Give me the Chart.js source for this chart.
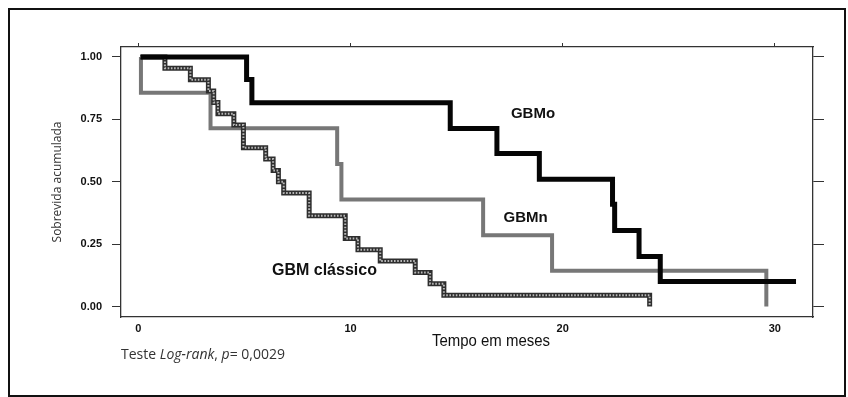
<!DOCTYPE html>
<html lang="pt">
<head>
<meta charset="UTF-8">
<title>Sobrevida acumulada</title>
<script src="https://cdn.jsdelivr.net/npm/chart.js@4.4.1/dist/chart.umd.min.js"></script>
<style>
  html, body { margin: 0; padding: 0; background: #fff; }
  #moldura { position: absolute; left: 8px; top: 8px; width: 838px; height: 389px; box-sizing: border-box; border: 2px solid #111; }
  #grafico { position: absolute; left: 0; top: 0; }
</style>
</head>
<body>
<div id="moldura"></div>
<canvas id="grafico" width="848" height="397"></canvas>
<script>
// --- dados (Kaplan-Meier) ---
const tempoGBMo = [0.1, 5.1, 5.35, 14.7, 16.9, 18.9, 22.35, 22.45, 23.6, 24.6, 31.0];
const sobrevidaGBMo = [1.0, 0.91, 0.817, 0.713, 0.613, 0.51, 0.41, 0.305, 0.2, 0.1, 0.1];

const tempoGBMn = [0.1, 0.12, 3.4, 9.37, 9.57, 16.25, 19.5, 29.6];
const sobrevidaGBMn = [1.0, 0.857, 0.714, 0.571, 0.429, 0.286, 0.143, 0.0];

const tempoClassico = [0.1, 1.25, 2.45, 3.3, 3.55, 3.75, 4.5, 4.95, 6.0, 6.35, 6.6, 6.85, 8.05, 9.75, 10.35, 11.4, 13.05, 13.75, 14.4, 24.1];
const sobrevidaClassico = [1.0, 0.955, 0.909, 0.864, 0.818, 0.773, 0.727, 0.636, 0.591, 0.545, 0.5, 0.455, 0.364, 0.273, 0.227, 0.182, 0.136, 0.091, 0.045, 0.0];

const xTicks = [0, 10, 20, 30];
const xTickLabels = ['0', '10', '20', '30'];
const yTicks = [0, 0.25, 0.5, 0.75, 1];
const yTickLabels = ['0.00', '0.25', '0.50', '0.75', '1.00'];
const nomesSeries = ['GBMo', 'GBMn', 'GBM clássico'];

const pontos = (tempos, valores) => tempos.map((t, i) => ({ x: t, y: valores[i] }));

const fonteBase = '"Liberation Sans", Arial, sans-serif';
const corEixo = '#333';

// ticks fixos para todos os eixos
const fixarTicks = valores => scale => { scale.ticks = valores.map(v => ({ value: v })); };

// rótulos das curvas, título do eixo x e nota do teste
const textosPlugin = {
  id: 'textos',
  afterDraw(chart) {
    const { ctx, scales: { x, y } } = chart;
    ctx.save();
    ctx.fillStyle = '#111';
    ctx.textAlign = 'center';
    ctx.textBaseline = 'middle';

    ctx.font = 'bold 15px ' + fonteBase;
    ctx.fillText(nomesSeries[0], x.getPixelForValue(18.6), y.getPixelForValue(0.774));
    ctx.fillText(nomesSeries[1], x.getPixelForValue(18.25), y.getPixelForValue(0.357));
    ctx.font = 'bold 16px ' + fonteBase;
    ctx.fillText(nomesSeries[2], x.getPixelForValue(8.77), y.getPixelForValue(0.144));

    // título do eixo x, condensado
    ctx.font = '17px ' + fonteBase;
    const titulo = 'Tempo em meses';
    const w = ctx.measureText(titulo).width;
    ctx.save();
    ctx.translate(491, 341);
    ctx.scale(118 / w, 1);
    ctx.fillText(titulo, 0, 0);
    ctx.restore();

    // nota: Teste Log-rank, p= 0,0029
    ctx.fillStyle = '#333';
    ctx.textAlign = 'left';
    const partes = [
      ['Teste ', false], ['Log-rank', true], [', ', false], ['p', true], ['= 0,0029', false]
    ];
    let px = 121;
    partes.forEach(([txt, italico]) => {
      ctx.font = (italico ? 'italic ' : '') + '14px "Open Sans", sans-serif';
      ctx.fillText(txt, px, 355);
      px += ctx.measureText(txt).width;
    });
    ctx.restore();
  }
};

document.addEventListener('DOMContentLoaded', () => {
  const ctx = document.getElementById('grafico').getContext('2d');

  new Chart(ctx, {
    type: 'line',
    data: {
      datasets: [
        {
          label: nomesSeries[0],
          data: pontos(tempoGBMo, sobrevidaGBMo),
          borderColor: '#050505',
          borderWidth: 5,
          stepped: true
        },
        {
          // miolo pontilhado da curva clássica
          label: nomesSeries[2] + ' (padrão)',
          data: pontos(tempoClassico, sobrevidaClassico),
          borderColor: '#b8b8b8',
          borderWidth: 2,
          borderDash: [1.6, 1.6],
          stepped: true
        },
        {
          label: nomesSeries[2],
          data: pontos(tempoClassico, sobrevidaClassico),
          borderColor: '#2e2e2e',
          borderWidth: 5,
          stepped: true
        },
        {
          label: nomesSeries[1],
          data: pontos(tempoGBMn, sobrevidaGBMn),
          borderColor: '#777777',
          borderWidth: 4,
          stepped: true
        }
      ]
    },
    options: {
      responsive: false,
      animation: false,
      layout: { padding: 0 },
      elements: { point: { radius: 0 }, line: { tension: 0, capBezierPoints: false } },
      plugins: { legend: { display: false }, tooltip: { enabled: false } },
      scales: {
        x: {
          type: 'linear',
          position: 'bottom',
          min: -0.82,
          max: 31.8,
          afterBuildTicks: fixarTicks(xTicks),
          afterFit: s => { s.height = 80; },
          grid: { drawOnChartArea: false, drawTicks: false },
          border: { display: true, color: corEixo, width: 1.3 },
          ticks: {
            padding: 5,
            color: '#111',
            font: { family: fonteBase, size: 11, weight: 'bold' },
            callback: (v, i) => xTickLabels[i]
          }
        },
        x2: {
          type: 'linear',
          position: 'top',
          min: -0.82,
          max: 31.8,
          afterBuildTicks: fixarTicks(xTicks),
          afterFit: s => { s.height = 47; },
          grid: { drawOnChartArea: false, tickLength: 4, color: corEixo },
          border: { display: true, color: corEixo, width: 1.3 },
          ticks: { display: false }
        },
        y: {
          type: 'linear',
          position: 'left',
          min: -0.042,
          max: 1.04,
          afterBuildTicks: fixarTicks(yTicks),
          afterFit: s => { s.width = 121; },
          grid: { drawOnChartArea: false, tickLength: 9, color: corEixo },
          border: { display: true, color: corEixo, width: 1.3 },
          ticks: {
            padding: 10,
            color: '#111',
            font: { family: fonteBase, size: 11, weight: 'bold' },
            callback: (v, i) => yTickLabels[i]
          },
          title: {
            display: true,
            text: 'Sobrevida acumulada',
            color: '#333',
            font: { family: '"Open Sans", sans-serif', size: 12 },
            padding: { top: 50, bottom: 0 }
          }
        },
        y2: {
          type: 'linear',
          position: 'right',
          min: -0.042,
          max: 1.04,
          afterBuildTicks: fixarTicks(yTicks),
          afterFit: s => { s.width = 35; },
          grid: { drawOnChartArea: false, tickLength: 11, color: corEixo },
          border: { display: true, color: corEixo, width: 1.3 },
          ticks: { display: false }
        }
      }
    },
    plugins: [textosPlugin]
  });
});
</script>
</body>
</html>
